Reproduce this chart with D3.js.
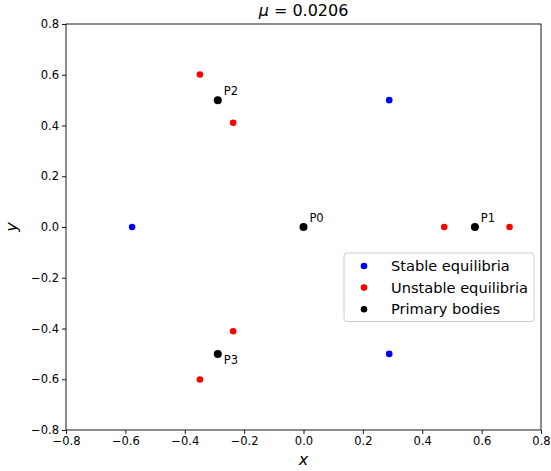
<!DOCTYPE html>
<html><head><meta charset="utf-8">
<script src="https://cdn.jsdelivr.net/npm/d3@7"></script>
<style>body{margin:0;background:#fff}text{font-family:"DejaVu Sans",sans-serif}</style>
</head><body>
<script>
const mu = 0.0206;
const stableX = [0.2887, -0.5774, 0.2887];
const stableY = [0.5, 0.0, -0.5];
const unstableX = [0.474, 0.694, -0.349, -0.237, -0.349, -0.237];
const unstableY = [0.0, 0.0, 0.601, 0.411, -0.601, -0.411];
const primaryNames = ["P0", "P1", "P2", "P3"];
const primaryX = [0.0, 0.5774, -0.2887, -0.2887];
const primaryY = [0.0, 0.0, 0.5, -0.5];
const labelDY = [0.02, 0.02, 0.02, -0.04];
const ticks = [-0.8, -0.6, -0.4, -0.2, 0.0, 0.2, 0.4, 0.6, 0.8];
const legendLabels = ["Stable equilibria", "Unstable equilibria", "Primary bodies"];
const legendColors = ["blue", "red", "black"];

const W = 551, H = 471;
const L = 66, R = 541, T = 24, B = 430;
const svg = d3.select("body").append("svg").attr("width", W).attr("height", H);
const x = d3.scaleLinear().domain([-0.8, 0.8]).range([L, R]);
const y = d3.scaleLinear().domain([-0.8, 0.8]).range([B, T]);
const fmt = d => d.toFixed(1).replace("-", "\u2212");

const gx = svg.append("g").attr("transform", `translate(0,${B})`)
  .call(d3.axisBottom(x).tickValues(ticks).tickFormat(fmt).tickSizeOuter(0).tickSize(4).tickPadding(3));
const gy = svg.append("g").attr("transform", `translate(${L},0)`)
  .call(d3.axisLeft(y).tickValues(ticks).tickFormat(fmt).tickSizeOuter(0).tickSize(4).tickPadding(3));
[gx, gy].forEach(g => {
  g.select(".domain").remove();
  g.selectAll("text").attr("font-size", 11.5).attr("font-family", "DejaVu Sans").attr("fill", "#000");
  g.selectAll("line").attr("stroke", "#000").attr("stroke-width", 0.9);
});
svg.append("rect").attr("x", L).attr("y", T).attr("width", R - L).attr("height", B - T)
  .attr("fill", "none").attr("stroke", "#000").attr("stroke-width", 0.9);

const plot = svg.append("g");
function dots(xs, ys, color, r) {
  plot.selectAll(null).data(xs.map((v, i) => [v, ys[i]])).enter().append("circle")
    .attr("cx", d => x(d[0])).attr("cy", d => y(d[1])).attr("r", r).attr("fill", color);
}
dots(stableX, stableY, "blue", 3.3);
dots(unstableX, unstableY, "red", 3.3);
dots(primaryX, primaryY, "black", 4);
plot.selectAll(null).data(primaryNames).enter().append("text")
  .attr("x", (d, i) => x(primaryX[i] + 0.02)).attr("y", (d, i) => y(primaryY[i] + labelDY[i]))
  .attr("font-size", 11.5).text(d => d);

// title
const title = svg.append("text").attr("x", (L + R) / 2).attr("y", 16).attr("text-anchor", "middle").attr("font-size", 16);
title.append("tspan").attr("font-style", "italic").text("\u03bc");
title.append("tspan").text(" = 0.0206");
svg.append("text").attr("x", (L + R) / 2).attr("y", 465).attr("text-anchor", "middle")
  .attr("font-size", 16).attr("font-style", "italic").text("x");
svg.append("text").attr("transform", `translate(17,${(T + B) / 2}) rotate(-90)`).attr("text-anchor", "middle")
  .attr("font-size", 16).attr("font-style", "italic").text("y");

// legend
const lg = svg.append("g");
lg.append("rect").attr("x", 344).attr("y", 253).attr("width", 190).attr("height", 68.5).attr("rx", 3)
  .attr("fill", "#fff").attr("fill-opacity", 0.8).attr("stroke", "#ccc").attr("stroke-width", 1);
legendLabels.forEach((lab, i) => {
  const cy = 266 + i * 21.6;
  lg.append("circle").attr("cx", 364).attr("cy", cy).attr("r", 3.3).attr("fill", legendColors[i]);
  lg.append("text").attr("x", 391).attr("y", cy + 5).attr("font-size", 14.6).text(lab);
});
</script>
</body></html>
